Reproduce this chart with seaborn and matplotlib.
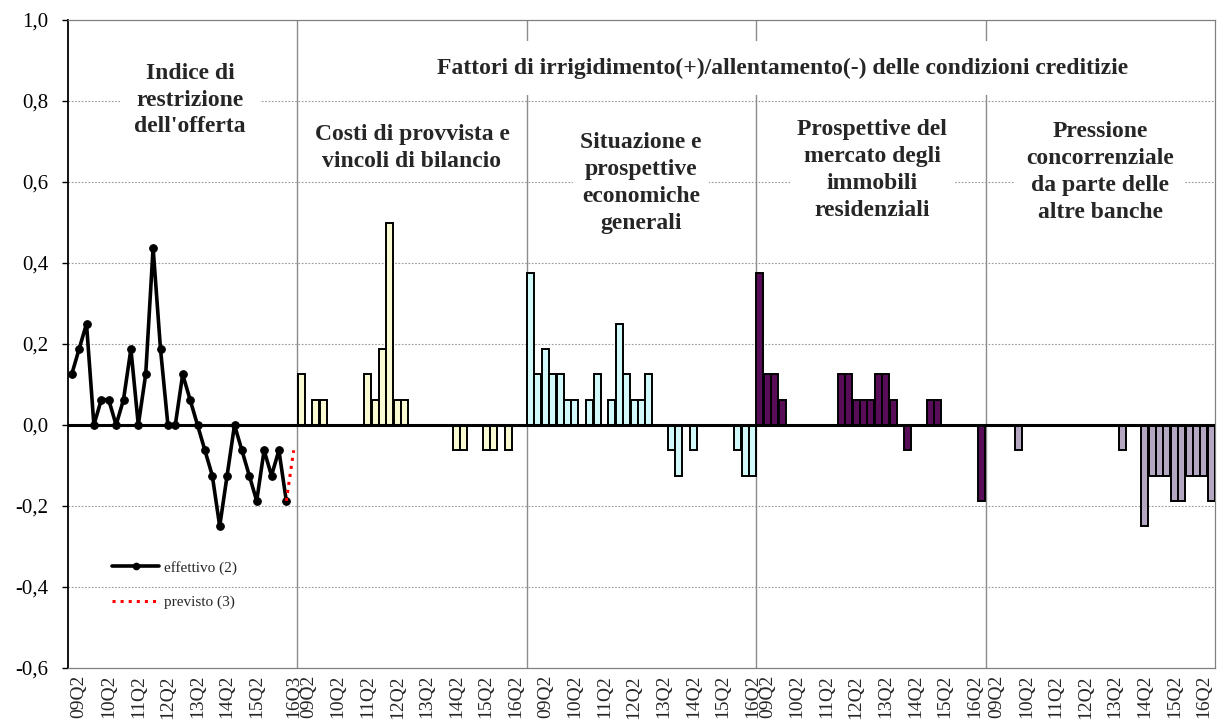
import numpy as np
import pandas as pd
import matplotlib
matplotlib.use("Agg")
import matplotlib.pyplot as plt
import seaborn as sns
from matplotlib.lines import Line2D
from matplotlib.ticker import FuncFormatter

sns.set_theme(style="white")
plt.rcParams['font.family'] = ['Liberation Serif', 'DejaVu Serif']

# ---------------- data ----------------
indice_effettivo = [0.125, 0.1875, 0.25, 0, 0.0625, 0.0625, 0, 0.0625, 0.1875, 0,
                    0.125, 0.4375, 0.1875, 0, 0, 0.125, 0.0625, 0, -0.0625, -0.125,
                    -0.25, -0.125, 0, -0.0625, -0.125, -0.1875, -0.0625, -0.125, -0.0625, -0.1875]
indice_previsto = [-0.1875, -0.0625]   # 16Q2 (effettivo) -> 16Q3 (previsto)

costi = [0.125, 0, 0.0625, 0.0625, 0, 0, 0, 0, 0, 0.125,
         0.0625, 0.1875, 0.5, 0.0625, 0.0625, 0, 0, 0, 0, 0,
         0, -0.0625, -0.0625, 0, 0, -0.0625, -0.0625, 0, -0.0625, 0, 0]
situazione = [0.375, 0.125, 0.1875, 0.125, 0.125, 0.0625, 0.0625, 0, 0.0625, 0.125,
              0, 0.0625, 0.25, 0.125, 0.0625, 0.0625, 0.125, 0, 0, -0.0625,
              -0.125, 0, -0.0625, 0, 0, 0, 0, 0, -0.0625, -0.125, -0.125]
immobili = [0.375, 0.125, 0.125, 0.0625, 0, 0, 0, 0, 0, 0,
            0, 0.125, 0.125, 0.0625, 0.0625, 0.0625, 0.125, 0.125, 0.0625, 0,
            -0.0625, 0, 0, 0.0625, 0.0625, 0, 0, 0, 0, 0, -0.1875]
concorrenza = [0, 0, 0, 0, -0.0625, 0, 0, 0, 0, 0,
               0, 0, 0, 0, 0, 0, 0, 0, -0.0625, 0,
               0, -0.25, -0.125, -0.125, -0.125, -0.1875, -0.1875, -0.125, -0.125, -0.125, -0.1875]

gruppi = ["Costi", "Situazione", "Immobili", "Concorrenza"]
colori = {"Costi": "#FFFFCC", "Situazione": "#CCFFFF", "Immobili": "#660066", "Concorrenza": "#B3A2C7"}

labels_g1 = ["09Q2", "10Q2", "11Q2", "12Q2", "13Q2", "14Q2", "15Q2", "16Q3"]
labels_bar = ["09Q2", "10Q2", "11Q2", "12Q2", "13Q2", "14Q2", "15Q2", "16Q2"]

y_ticks = [-0.6, -0.4, -0.2, 0.0, 0.2, 0.4, 0.6, 0.8, 1.0]

SLOTS = 31

# ---------------- frame ----------------
fig = plt.figure(figsize=(12.24, 7.26), dpi=100)
W, H = 1224, 726
L, R, T, B = 68, 1215, 20, 668
ax = fig.add_axes([L / W, 1 - B / H, (R - L) / W, (B - T) / H])

series = [costi, situazione, immobili, concorrenza]
frames = []
for gi, (g, vals) in enumerate(zip(gruppi, series)):
    off = SLOTS * (gi + 1)
    frames.append(pd.DataFrame({"pos": np.arange(len(vals)) + off,
                                "valore": vals, "gruppo": g}))
df = pd.concat(frames, ignore_index=True)

sns.barplot(data=df, x="pos", y="valore", hue="gruppo", palette=colori,
            native_scale=True, dodge=False, width=0.92, edgecolor="black",
            linewidth=1.4, errorbar=None, legend=False, ax=ax, zorder=3)

pos_line = np.arange(len(indice_effettivo))
sns.lineplot(x=pos_line, y=indice_effettivo, color="black", linewidth=2.6,
             marker="o", markersize=5.5, markeredgecolor="black", ax=ax, zorder=5)
sns.lineplot(x=[len(indice_effettivo) - 1, len(indice_effettivo)], y=indice_previsto,
             color="red", linewidth=2.2, linestyle=":", ax=ax, zorder=6)

ax.set_xlim(-0.5, 5 * SLOTS - 0.5)
ax.set_ylim(-0.6, 1.0)

# grid and separators
for yv in y_ticks[1:-1]:
    ax.axhline(yv, color="#9a9a9a", lw=0.8, ls=(0, (1.5, 1.5)), zorder=0)
for k in range(1, 5):
    ax.axvline(SLOTS * k - 0.5, color="#8c8c8c", lw=1.0, zorder=1)
ax.axhline(0, color="black", lw=2.2, zorder=4)

# ticks
tick_pos, tick_lab = [], []
g1_pos = [1, 5, 9, 13, 17, 21, 25, 30]
tick_pos += g1_pos
tick_lab += labels_g1
starts = [1, 2, 1, 1]
for gi in range(4):
    off = SLOTS * (gi + 1)
    tick_pos += [off + starts[gi] + 4 * i for i in range(8)]
    tick_lab += labels_bar
ax.set_xticks(tick_pos)
ax.set_xticklabels(tick_lab, rotation=90, fontsize=14, va="top", ha="center")
ax.tick_params(axis="x", length=0, pad=5)

ax.set_yticks(y_ticks)
ax.yaxis.set_major_formatter(FuncFormatter(lambda v, p: f"{v:.1f}".replace(".", ",")))
ax.tick_params(axis="y", length=4, width=1, direction="out", pad=10, labelsize=15,
               left=True, colors="black")
ax.set_xlabel("")
ax.set_ylabel("")

for s in ["top", "right", "bottom"]:
    ax.spines[s].set_color("#808080")
    ax.spines[s].set_linewidth(0.9)
ax.spines["left"].set_color("black")
ax.spines["left"].set_linewidth(1.3)

# text boxes
def px2x(px):
    return (px - L) / ((R - L) / (5 * SLOTS)) - 0.5

def px2y(py):
    return (425 - py) / 405.0

tkw = dict(ha="center", va="center", fontweight="bold", fontsize=17,
           linespacing=1.36, zorder=7)
ax.text(px2x(190), px2y(100), "Indice di\nrestrizione\ndell'offerta",
        bbox=dict(facecolor="white", edgecolor="none", pad=10), **tkw)
ax.text(px2x(783), px2y(68),
        "Fattori di irrigidimento(+)/allentamento(-) delle condizioni creditizie",
        bbox=dict(facecolor="white", edgecolor="none", pad=12), **tkw)
ax.text(px2x(412), px2y(148), "Costi di provvista e\nvincoli di bilancio",
        bbox=dict(facecolor="white", edgecolor="none", pad=4), **tkw)
ax.text(px2x(641), px2y(183), "Situazione e\nprospettive\neconomiche\ngenerali",
        bbox=dict(facecolor="white", edgecolor="none", pad=5), **tkw)
ax.text(px2x(872), px2y(170), "Prospettive del\nmercato degli\nimmobili\nresidenziali",
        bbox=dict(facecolor="white", edgecolor="none", pad=5), **tkw)
ax.text(px2x(1100), px2y(172), "Pressione\nconcorrenziale\nda parte delle\naltre banche",
        bbox=dict(facecolor="white", edgecolor="none", pad=8), **tkw)

# legend
handles = [Line2D([0], [0], color="black", lw=2.6, marker="o", markersize=4.5),
           Line2D([0], [0], color="red", lw=2.2, ls=":")]
leg = ax.legend(handles, ["effettivo (2)", "previsto (3)"], loc="upper left",
                bbox_to_anchor=((112 - L) / (R - L), (B - 561) / (B - T)),
                frameon=False, fontsize=11, handlelength=3.1, labelspacing=1.35,
                handletextpad=0.3, borderpad=0, borderaxespad=0)

fig.savefig("out.png", dpi=100)
